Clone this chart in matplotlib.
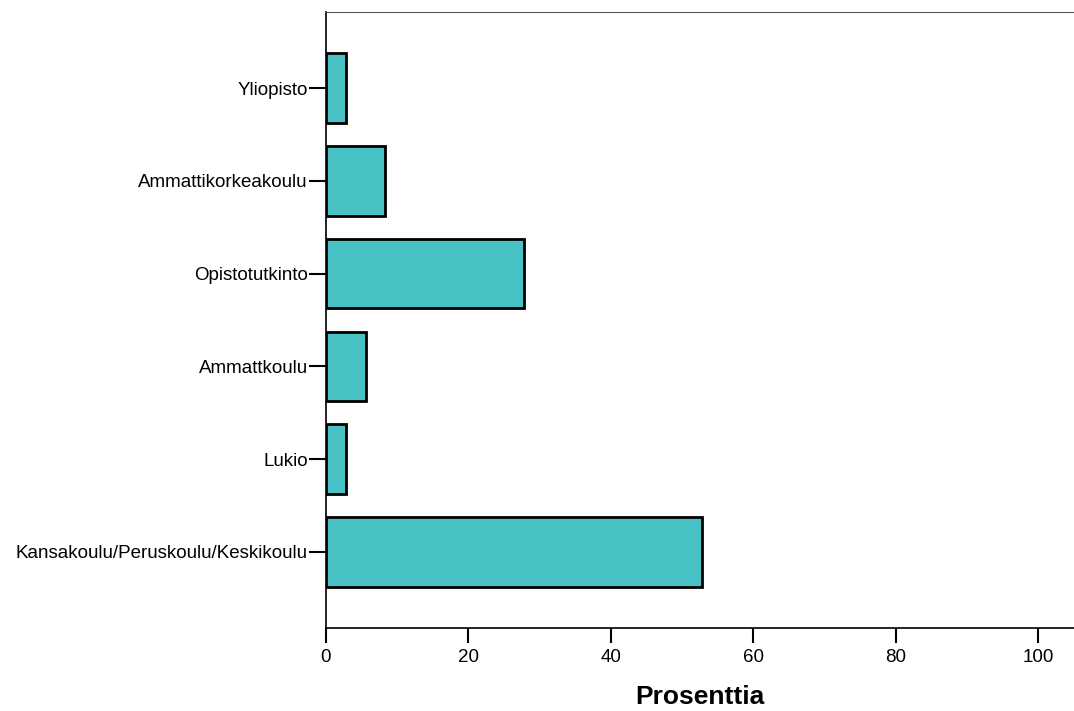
import matplotlib
matplotlib.use("Agg")
from matplotlib import pyplot as plt

# education levels, bottom to top as drawn
categories = ["Kansakoulu/Peruskoulu/Keskikoulu", "Lukio", "Ammattkoulu",
              "Opistotutkinto", "Ammattikorkeakoulu", "Yliopisto"]
percent = [52.8, 2.8, 5.6, 27.8, 8.3, 2.8]
x_ticks = [0, 20, 40, 60, 80, 100]

plt.rcParams['font.family'] = ['Liberation Sans', 'DejaVu Sans']

fig = plt.figure(figsize=(10.74, 7.11), dpi=100)
ax = fig.add_axes([0.3035, 0.1167, 0.6965, 0.8664])

pos = list(range(len(categories)))
ax.barh(pos, percent, height=0.75, color='#48c2c5', edgecolor='black', linewidth=2)

ax.set_xlim(0, 105)
ax.set_ylim(-0.82, 5.82)
ax.set_yticks(pos)
ax.set_yticklabels(categories, fontsize=13.5)
ax.set_xticks(x_ticks)
ax.set_xticklabels([str(t) for t in x_ticks], fontsize=13.5)
ax.tick_params(axis='y', length=12, width=1.5, pad=1)
ax.tick_params(axis='x', length=11, width=1.5, pad=4)
ax.set_xlabel('Prosenttia', fontsize=19, fontweight='bold', labelpad=14)

ax.spines['right'].set_visible(False)
ax.spines['top'].set_color('#555555')
ax.spines['left'].set_linewidth(1.2)
ax.spines['bottom'].set_linewidth(1.2)

fig.savefig('out.png', dpi=100)
